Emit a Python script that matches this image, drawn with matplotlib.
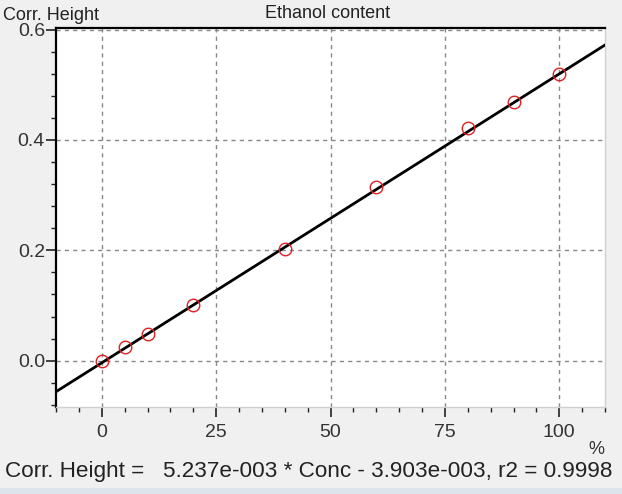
import matplotlib
matplotlib.use("Agg")
import matplotlib.pyplot as plt
import numpy as np
from matplotlib.ticker import MultipleLocator, FixedLocator
from matplotlib.patches import Rectangle
from matplotlib import font_manager

conc = [0, 5, 10, 20, 40, 60, 80, 90, 100]
height = [0.000, 0.024, 0.048, 0.100, 0.203, 0.315, 0.421, 0.469, 0.520]
slope = 5.237e-3
intercept = -3.903e-3
x_ticks = [0, 25, 50, 75, 100]
y_ticks = [0.0, 0.2, 0.4, 0.6]

names = {f.name for f in font_manager.fontManager.ttflist}
narrow = 'Liberation Sans Narrow' if 'Liberation Sans Narrow' in names else 'Liberation Sans'
plt.rcParams['font.family'] = [narrow, 'DejaVu Sans']

fig = plt.figure(figsize=(6.22, 4.94), dpi=100)
fig.patch.set_facecolor('#f0f0f0')
fig.patches.append(Rectangle((0, 0), 1, 6/494, transform=fig.transFigure,
                             facecolor='#dde4ec', edgecolor='none', zorder=-1))

ax = fig.add_axes([56/622, 1 - 407/494, (605 - 56)/622, (407 - 28)/494])
ax.set_facecolor('white')
ax.set_xlim(-10, 110)
ax.set_ylim(-0.084, 0.603)

xl = np.array([-10, 110])
ax.plot(xl, slope * xl + intercept, color='black', lw=2.0, zorder=3)
ax.plot(conc, height, linestyle='none', marker='o', markersize=9,
        markerfacecolor='none', markeredgecolor='#e02020', markeredgewidth=1.0, zorder=4)

ax.xaxis.set_major_locator(FixedLocator(x_ticks))
ax.xaxis.set_minor_locator(MultipleLocator(5))
ax.yaxis.set_major_locator(FixedLocator(y_ticks))
ax.yaxis.set_minor_locator(MultipleLocator(0.04))
ax.set_xticklabels([str(v) for v in x_ticks])
ax.set_yticklabels([f"{v:.1f}" for v in y_ticks])
ax.tick_params(which='major', direction='out', length=7, width=1.2, colors='#222222',
               labelsize=14, labelcolor='#333333')
ax.tick_params(which='minor', direction='out', length=3.5, width=1.0, colors='#222222')
ax.tick_params(axis='x', pad=5)
ax.tick_params(axis='y', pad=1)

ax.grid(True, which='major', linestyle=(0, (3, 3)), color='#888888', lw=1.0)

for s in ['left', 'top']:
    ax.spines[s].set_color('black')
    ax.spines[s].set_linewidth(1.6)
for s in ['right', 'bottom']:
    ax.spines[s].set_color('#d0d0d0')
    ax.spines[s].set_linewidth(1.0)

fig.text(3/622, 1 - 15/494, 'Corr. Height', fontsize=13, va='center', ha='left', color='#222222')
fig.text(328/622, 1 - 14/494, 'Ethanol content', fontsize=13, va='center', ha='center', color='#222222')
fig.text(596/622, 1 - 449/494, '%', fontsize=13, va='center', ha='center', color='#333333')
fig.text(5/622, 1 - 471/494,
         'Corr. Height =   5.237e-003 * Conc - 3.903e-003, r2 = 0.9998',
         fontsize=16.2, va='center', ha='left', color='#222222',
         family=['Liberation Sans', 'DejaVu Sans'])

fig.savefig('out.png', dpi=100, facecolor=fig.get_facecolor())
